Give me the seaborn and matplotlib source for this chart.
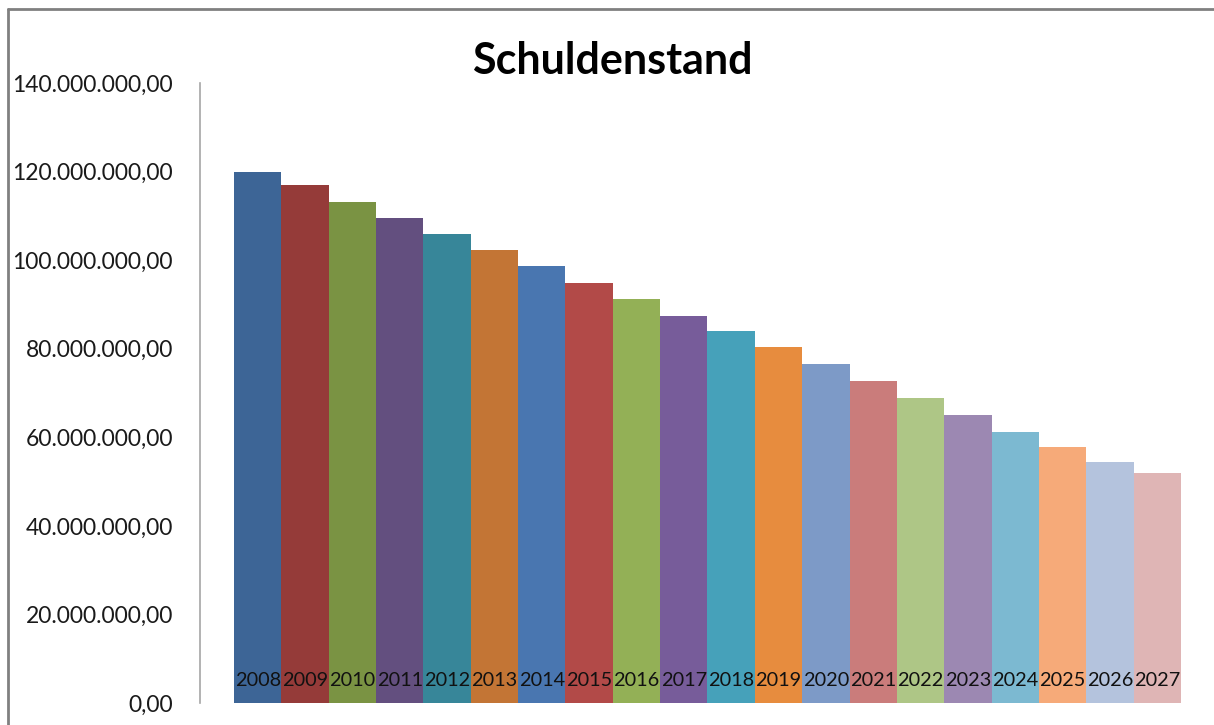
import matplotlib
matplotlib.use("Agg")
import matplotlib.pyplot as plt
from matplotlib.ticker import FuncFormatter
from matplotlib.lines import Line2D
import seaborn as sns
import pandas as pd

#%% Data
years = [str(y) for y in range(2008, 2028)]
debt = [119.9e6, 116.9e6, 113.1e6, 109.5e6, 105.9e6, 102.3e6, 98.6e6, 94.8e6,
        91.2e6, 87.4e6, 84.0e6, 80.4e6, 76.5e6, 72.7e6, 68.8e6, 65.0e6,
        61.2e6, 57.8e6, 54.4e6, 51.9e6]
bar_colors = ["#3D6596", "#953B39", "#7A9343", "#634F7F", "#378699",
              "#C37535", "#4976B0", "#B24A48", "#93B056", "#775C9A",
              "#46A1BA", "#E78C3E", "#7D9AC7", "#CA7C7B", "#AEC686",
              "#9C88B2", "#7CB9D1", "#F6AA79", "#B4C3DD", "#DFB5B5"]
y_ticks = [0, 20e6, 40e6, 60e6, 80e6, 100e6, 120e6, 140e6]

df = pd.DataFrame({"Jahr": years, "Schuldenstand": debt})

sns.set_style("white")
plt.rcParams['font.family'] = ['Lato', 'DejaVu Sans']

W, H = 1214, 725
fig = plt.figure(figsize=(W / 100, H / 100), dpi=100)

# plot area in pixels (left axis at x=200, bars end at 1181, 0 at y=703, 140M at y=83)
ax_l, ax_r, ax_b, ax_t = 200, 1181, 703, 83
ax = fig.add_axes([ax_l / W, 1 - ax_b / H, (ax_r - ax_l) / W, (ax_b - ax_t) / H])

sns.barplot(data=df, x="Jahr", y="Schuldenstand", hue="Jahr", palette=bar_colors,
            width=1.0, legend=False, linewidth=0, saturation=1, ax=ax)

bar_w = (ax_r - 234) / 20.0
ax.set_xlim(-0.5 - (234 - ax_l) / bar_w, 19.5)
ax.set_ylim(0, 140e6)
ax.set_yticks(y_ticks)

def de_fmt(v, pos):
    s = f"{v:,.2f}"
    return s.replace(",", "X").replace(".", ",").replace("X", ".")

ax.yaxis.set_major_formatter(FuncFormatter(de_fmt))
ax.tick_params(axis="y", length=0, pad=19.5, labelsize=16.5, labelcolor="#1a1a1a")
ax.set_xticks([])
ax.set_xlabel("")
ax.set_ylabel("")

for s in ["top", "right", "bottom"]:
    ax.spines[s].set_visible(False)
ax.spines["left"].set_color("#a6a6a6")
ax.spines["left"].set_linewidth(1.2)

# year labels inside the bars near the bottom
for i, yr in enumerate(years):
    ax.text(i, 0.036, yr, transform=ax.get_xaxis_transform(),
            ha="center", va="center", fontsize=14.3, color="#111111")

fig.text(612 / W, 1 - 61 / H, "Schuldenstand", ha="center", va="center",
         fontsize=31, fontweight="bold", color="black")

# chart frame (top and left edges visible)
fig.add_artist(Line2D([8 / W, 1], [1 - 9 / H, 1 - 9 / H], transform=fig.transFigure,
                      color="#808080", linewidth=2))
fig.add_artist(Line2D([8 / W, 8 / W], [0, 1 - 9 / H], transform=fig.transFigure,
                      color="#808080", linewidth=2))

fig.savefig("out.png", dpi=100, facecolor="white")
